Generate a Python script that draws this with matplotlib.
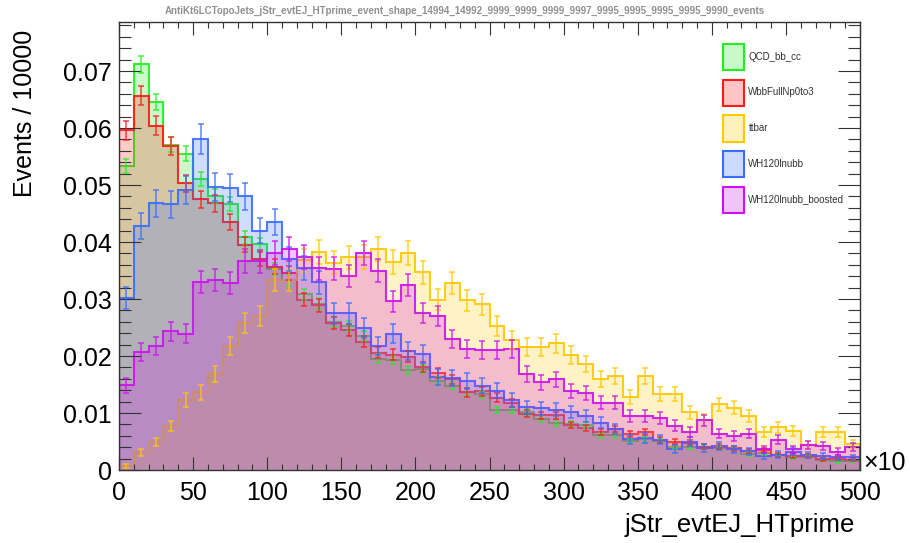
import numpy as np
import matplotlib
matplotlib.use('Agg')
import matplotlib.pyplot as plt
from matplotlib.patches import Patch

plt.rcParams['font.family'] = ['Liberation Sans', 'DejaVu Sans']

# 50 bins, 0..500 (x10)
bin_edges = np.arange(0, 510, 10)

qcd_bb_cc = [0.0533, 0.0712, 0.0645, 0.0571, 0.0555, 0.0511, 0.0481, 0.0467, 0.0408, 0.0396,
             0.0353, 0.0333, 0.0308, 0.0292, 0.0260, 0.0253, 0.0235, 0.0195, 0.0193, 0.0175,
             0.0177, 0.0157, 0.0148, 0.0137, 0.0133, 0.0105, 0.0105, 0.0101, 0.0089, 0.0082,
             0.0081, 0.0079, 0.0061, 0.0061, 0.0051, 0.0054, 0.0051, 0.0041, 0.0040, 0.0040,
             0.0039, 0.0037, 0.0028, 0.0029, 0.0027, 0.0022, 0.0023, 0.0018, 0.0015, 0.0016]
wbb = [0.0596, 0.0657, 0.0604, 0.0569, 0.0503, 0.0475, 0.0468, 0.0435, 0.0395, 0.0370,
       0.0357, 0.0345, 0.0299, 0.0289, 0.0258, 0.0246, 0.0225, 0.0206, 0.0202, 0.0199,
       0.0181, 0.0170, 0.0159, 0.0136, 0.0138, 0.0127, 0.0118, 0.0099, 0.0096, 0.0096,
       0.0079, 0.0074, 0.0066, 0.0072, 0.0063, 0.0067, 0.0053, 0.0050, 0.0048, 0.0041,
       0.0041, 0.0038, 0.0033, 0.0035, 0.0027, 0.0024, 0.0024, 0.0019, 0.0020, 0.0018]
ttbar = [0.0007, 0.0031, 0.0049, 0.0077, 0.0123, 0.0136, 0.0169, 0.0218, 0.0258, 0.0270,
         0.0333, 0.0333, 0.0368, 0.0382, 0.0364, 0.0373, 0.0374, 0.0387, 0.0365, 0.0381,
         0.0347, 0.0299, 0.0328, 0.0298, 0.0291, 0.0253, 0.0228, 0.0215, 0.0215, 0.0222,
         0.0202, 0.0186, 0.0160, 0.0165, 0.0128, 0.0165, 0.0133, 0.0134, 0.0101, 0.0088,
         0.0115, 0.0109, 0.0095, 0.0066, 0.0075, 0.0069, 0.0044, 0.0066, 0.0066, 0.0046]
wh120 = [0.0302, 0.0428, 0.0468, 0.0466, 0.0491, 0.0580, 0.0496, 0.0495, 0.0480, 0.0420,
         0.0435, 0.0371, 0.0354, 0.0329, 0.0275, 0.0275, 0.0249, 0.0218, 0.0239, 0.0208,
         0.0204, 0.0164, 0.0161, 0.0156, 0.0148, 0.0139, 0.0123, 0.0110, 0.0108, 0.0106,
         0.0102, 0.0095, 0.0083, 0.0072, 0.0054, 0.0056, 0.0053, 0.0037, 0.0050, 0.0038,
         0.0042, 0.0036, 0.0033, 0.0025, 0.0027, 0.0032, 0.0026, 0.0025, 0.0022, 0.0022]
wh120_boosted = [0.0149, 0.0207, 0.0218, 0.0243, 0.0239, 0.0330, 0.0333, 0.0328, 0.0367, 0.0366,
                 0.0381, 0.0387, 0.0374, 0.0354, 0.0353, 0.0340, 0.0380, 0.0350, 0.0296, 0.0325,
                 0.0275, 0.0270, 0.0230, 0.0213, 0.0210, 0.0211, 0.0213, 0.0168, 0.0154, 0.0159,
                 0.0139, 0.0135, 0.0118, 0.0118, 0.0094, 0.0094, 0.0091, 0.0078, 0.0067, 0.0087,
                 0.0064, 0.0060, 0.0064, 0.0036, 0.0053, 0.0036, 0.0043, 0.0042, 0.0032, 0.0040]

names = ['QCD_bb_cc', 'WbbFullNp0to3', 'ttbar', 'WH120lnubb', 'WH120lnubb_boosted']
series = [qcd_bb_cc, wbb, ttbar, wh120, wh120_boosted]
colors = ['#22ee22', '#ff1a1a', '#ffc800', '#3a6cff', '#cc11ee']
# poisson-ish stat error scale per sample (err = sqrt(v * s))
stat_scale = [3.0e-5, 4.5e-5, 1.15e-4, 1.2e-4, 1.15e-4]

title = ("AntiKt6LCTopoJets_jStr_evtEJ_HTprime_event_shape_14994_14992_9999_9999_9999_"
         "9997_9995_9995_9995_9995_9990_events")

fig = plt.figure(figsize=(9.1, 5.43), dpi=100)
ax = fig.add_axes([119/910, 1-470/543, (860-119)/910, (470-22)/543])

centers = (bin_edges[:-1] + bin_edges[1:]) / 2
for vals, col, s in zip(series, colors, stat_scale):
    v = np.array(vals)
    ax.stairs(v, bin_edges, fill=True, color=col, alpha=0.23, linewidth=0)
    ax.stairs(v, bin_edges, color=col, alpha=0.9, linewidth=1.5)
    err = np.sqrt(v * s)
    ax.errorbar(centers, v, yerr=err, fmt='none', ecolor=col, alpha=0.75,
                elinewidth=1.2, capsize=2.5, capthick=1.2)

ax.set_xlim(0, 500)
ax.set_ylim(0, 0.0786)
ax.set_xticks(np.arange(0, 501, 50))
ax.set_xticks(np.arange(0, 501, 10), minor=True)
ax.set_yticks(np.arange(0, 0.0701, 0.01))
ax.set_yticks(np.arange(0, 0.0786, 0.002), minor=True)
ax.set_yticklabels(['0'] + [f'{t:.2f}' for t in np.arange(0.01, 0.0701, 0.01)])

ax.tick_params(axis='both', which='both', direction='in', top=True, right=True,
               labelsize=18, width=0.8, color='#333333')
ax.tick_params(axis='x', which='major', length=9.5, pad=8)
ax.tick_params(axis='x', which='minor', length=4.5)
ax.tick_params(axis='y', which='major', length=16, pad=5)
ax.tick_params(axis='y', which='minor', length=8.5)
for sp in ax.spines.values():
    sp.set_linewidth(1.0)
    sp.set_color('#333333')

fig.text(465/910, 1-11/543, title, ha='center', va='center', fontsize=7,
         color='#909090', fontweight='bold')
fig.text(25/910, 1-30/543, 'Events / 10000', rotation=90, ha='center', va='top',
         fontsize=18)
fig.text(855/910, 1-525/543, 'jStr_evtEJ_HTprime', ha='right', va='center', fontsize=18.5)
fig.text(863/910, 1-463/543, '×10', ha='left', va='center', fontsize=18)

handles = [Patch(facecolor=matplotlib.colors.to_rgba(c, 0.25), edgecolor=c, linewidth=1.5)
           for c in colors]
ax.legend(handles, names, loc='upper left', bbox_to_anchor=(723/910, 1-44/543),
          bbox_transform=fig.transFigure, frameon=False, fontsize=7, borderpad=0,
          borderaxespad=0, handlelength=2.16, handleheight=3.8, labelspacing=0.95,
          handletextpad=0.45, labelcolor='#333333')

fig.savefig('out.png', dpi=100)
